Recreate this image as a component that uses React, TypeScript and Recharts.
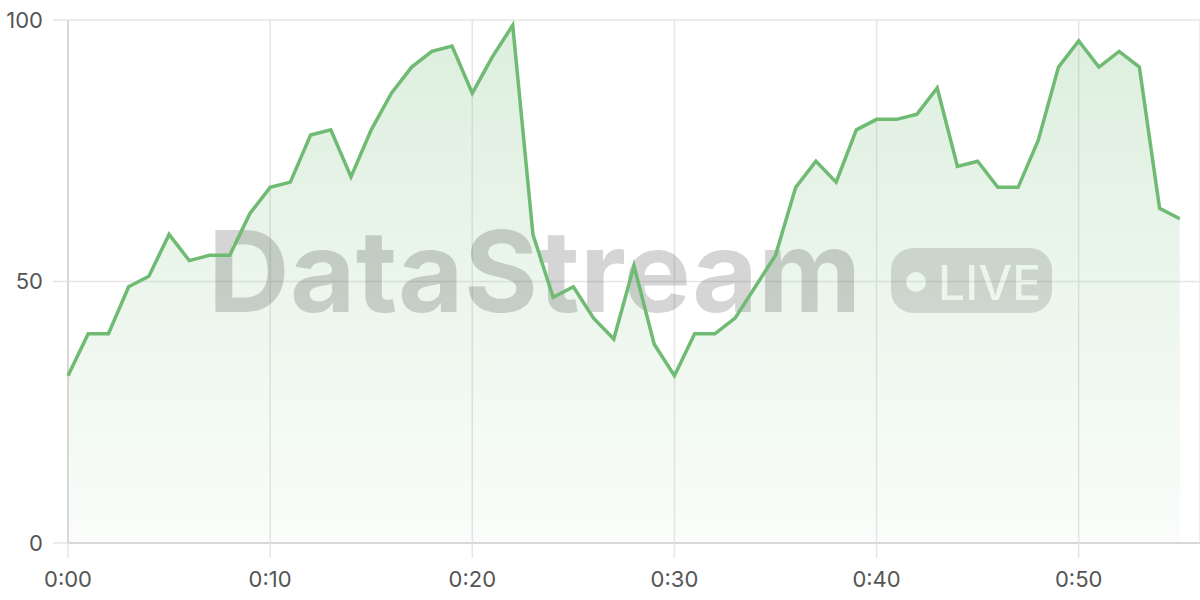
import React from "react";
import { AreaChart, Area, LineChart, Line, XAxis, YAxis, CartesianGrid } from "recharts";

const seconds = [
  0, 1, 2, 3, 4, 5, 6, 7, 8, 9, 10, 11, 12, 13, 14, 15, 16, 17, 18, 19,
  20, 21, 22, 23, 24, 25, 26, 27, 28, 29, 30, 31, 32, 33, 34, 35, 36, 37, 38, 39,
  40, 41, 42, 43, 44, 45, 46, 47, 48, 49, 50, 51, 52, 53, 54, 55,
];
const values = [
  32, 40, 40, 49, 51, 59, 54, 55, 55, 63, 68, 69, 78, 79, 70, 79, 86, 91, 94, 95,
  86, 93, 99, 59, 47, 49, 43, 39, 53, 38, 32, 40, 40, 43, 49, 55, 68, 73, 69, 79,
  81, 81, 82, 87, 72, 73, 68, 68, 77, 91, 96, 91, 94, 91, 64, 62,
];
const xTicks = [0, 10, 20, 30, 40, 50];
const xTickLabels = ["0:00", "0:10", "0:20", "0:30", "0:40", "0:50"];
const yTicks = [0, 50, 100];
const watermarkText = "DataStream";
const badgeText = "LIVE";

const data = seconds.map((s, i) => ({ t: s, v: values[i] }));

const W = 1200;
const H = 600;
const GREEN = "#70bb74";
const tickStyle = { fontSize: 22, fill: "#555", fontFamily: "Inter, 'Noto Sans', sans-serif" };

const fmtX = (v: number) => {
  const i = xTicks.indexOf(v);
  return i >= 0 ? xTickLabels[i] : "";
};

export default function App() {
  const layer: React.CSSProperties = { position: "absolute", left: 0, top: 0, width: W, height: H };
  return (
    <div style={{ position: "absolute", left: 0, top: 0, width: W, height: H, background: "#fff" }}>
      <div style={layer}>
        <AreaChart width={W} height={H} data={data} margin={{ top: 20, right: 0, left: 0, bottom: 0 }}>
          <defs>
            <linearGradient id="fillG" x1="0" y1="0" x2="0" y2="1">
              <stop offset="0%" stopColor={GREEN} stopOpacity={0.4} />
              <stop offset="100%" stopColor={GREEN} stopOpacity={0.06} />
            </linearGradient>
          </defs>
          <CartesianGrid stroke="#e6e6e6" strokeWidth={1.5} />
          <XAxis
            dataKey="t"
            type="number"
            domain={[0, 56]}
            ticks={xTicks}
            tickFormatter={fmtX}
            height={57}
            tickSize={15}
            tickMargin={13}
            tick={tickStyle}
            axisLine={{ stroke: "#d2d2d2", strokeWidth: 1.5 }}
            tickLine={{ stroke: "#e6e6e6", strokeWidth: 1.5 }}
            interval={0}
          />
          <YAxis
            type="number"
            domain={[0, 100]}
            ticks={yTicks}
            width={68}
            tickSize={15}
            tickMargin={10}
            tick={tickStyle}
            axisLine={{ stroke: "#d2d2d2", strokeWidth: 1.5 }}
            tickLine={{ stroke: "#e6e6e6", strokeWidth: 1.5 }}
            interval={0}
          />
          <Area
            type="linear"
            dataKey="v"
            stroke="none"
            fill="url(#fillG)"
            isAnimationActive={false}
            dot={false}
            activeDot={false}
          />
        </AreaChart>
      </div>
      <svg style={{ ...layer, pointerEvents: "none" }} width={W} height={H}>
        <defs>
          <mask id="badgeMask">
            <rect x={0} y={0} width={W} height={H} fill="#fff" />
            <circle cx={916} cy={282} r={10} fill="#000" />
            <text
              x={938}
              y={300}
              fontFamily="Inter, 'Noto Sans', sans-serif"
              fontWeight={500}
              fontSize={48}
              fill="#000"
            >
              {badgeText}
            </text>
          </mask>
        </defs>
        <text
          x={208}
          y={312}
          fontFamily="Inter, 'Noto Sans', sans-serif"
          fontWeight={700}
          fontSize={113}
          letterSpacing={0.3}
          fill="rgba(0,0,0,0.165)"
        >
          {watermarkText}
        </text>
        <rect x={891} y={248} width={161} height={65} rx={22} fill="rgba(0,0,0,0.13)" mask="url(#badgeMask)" />
      </svg>
      <div style={layer}>
        <LineChart width={W} height={H} data={data} margin={{ top: 20, right: 0, left: 68, bottom: 57 }}>
          <XAxis dataKey="t" type="number" domain={[0, 56]} hide />
          <YAxis type="number" domain={[0, 100]} hide />
          <Line
            type="linear"
            dataKey="v"
            stroke={GREEN}
            strokeWidth={3.5}
            dot={false}
            activeDot={false}
            isAnimationActive={false}
          />
        </LineChart>
      </div>
    </div>
  );
}
